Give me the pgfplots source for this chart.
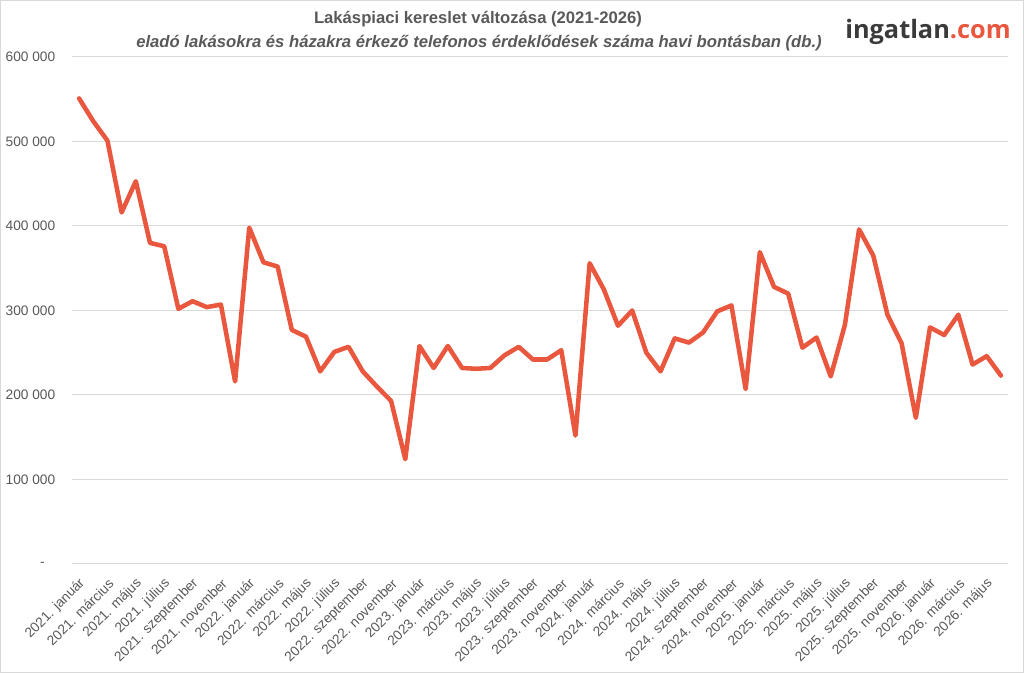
\documentclass[border=0pt]{standalone}
\usepackage{fontspec}
\setmainfont{Liberation Sans}
\newfontfamily\logofont{Open Sans}
\usepackage{pgfplots}
\pgfplotsset{compat=1.18}
\definecolor{linec}{HTML}{E9573E}
\definecolor{txt}{HTML}{595959}
\definecolor{gridc}{HTML}{D9D9D9}
\definecolor{logo}{HTML}{3A3A3A}

\pgfplotstableread{
x y
0 551000
1 524000
2 501000
3 416000
4 453000
5 380000
6 376000
7 302000
8 311000
9 304000
10 307000
11 216000
12 398000
13 357000
14 352000
15 277000
16 269000
17 228000
18 251000
19 257000
20 228000
21 210000
22 193000
23 124000
24 258000
25 232000
26 258000
27 232000
28 231000
29 232000
30 247000
31 257000
32 242000
33 242000
34 253000
35 152000
36 356000
37 325000
38 282000
39 300000
40 250000
41 228000
42 267000
43 262000
44 274000
45 299000
46 306000
47 207000
48 369000
49 328000
50 320000
51 256000
52 268000
53 222000
54 283000
55 396000
56 365000
57 295000
58 261000
59 173000
60 280000
61 271000
62 295000
63 236000
64 246000
65 223000
}\datatable

\begin{document}
\begin{tikzpicture}[x=1pt,y=1pt]
\useasboundingbox (-54,-81.75) rectangle (714,423);
\draw[gridc, line width=0.75pt] (-53.6,-81.35) rectangle (713.6,422.6);
\begin{axis}[
  at={(0,0)}, anchor=south west,
  scale only axis, width=702pt, height=380.25pt,
  xmin=-0.5, xmax=65.5, ymin=0, ymax=600000,
  axis line style={draw=none},
  major tick length=0pt,
  ymajorgrids, grid style={gridc, line width=0.75pt},
  ytick={0,100000,200000,300000,400000,500000,600000},
  yticklabels={-\kern8pt, 100 000, 200 000, 300 000, 400 000, 500 000, 600 000},
  scaled y ticks=false,
  xtick={0,2,...,64},
  xticklabels={2021. január, 2021. március, 2021. május, 2021. július, 2021. szeptember, 2021. november,
    2022. január, 2022. március, 2022. május, 2022. július, 2022. szeptember, 2022. november,
    2023. január, 2023. március, 2023. május, 2023. július, 2023. szeptember, 2023. november,
    2024. január, 2024. március, 2024. május, 2024. július, 2024. szeptember, 2024. november,
    2025. január, 2025. március, 2025. május, 2025. július, 2025. szeptember, 2025. november,
    2026. január, 2026. március, 2026. május},
  tick label style={font=\fontsize{10.3}{12}\selectfont, text=txt},
  yticklabel style={anchor=east, xshift=-9pt},
  xticklabel style={rotate=45, anchor=east, xshift=-3.8pt, yshift=-11.1pt},
  clip=false,
]
\addplot[linec, line width=3.4pt, line join=round, line cap=round] table[x=x,y=y] {\datatable};
\end{axis}
\node[text=txt, font=\bfseries\fontsize{12.5}{14}\selectfont] at (304.5,408.5) {Lakáspiaci kereslet változása (2021-2026)};
\node[text=txt, font=\bfseries\itshape\fontsize{12.5}{14}\selectfont] at (305.25,390.5) {eladó lakásokra és házakra érkező telefonos érdeklődések száma havi bontásban (db.)};
\node[anchor=west, inner sep=0pt, font=\logofont\bfseries\fontsize{19}{21}\selectfont] at (579.75,399) {\textcolor{logo}{ingatlan}\textcolor{linec}{.com}};
\end{tikzpicture}
\end{document}
